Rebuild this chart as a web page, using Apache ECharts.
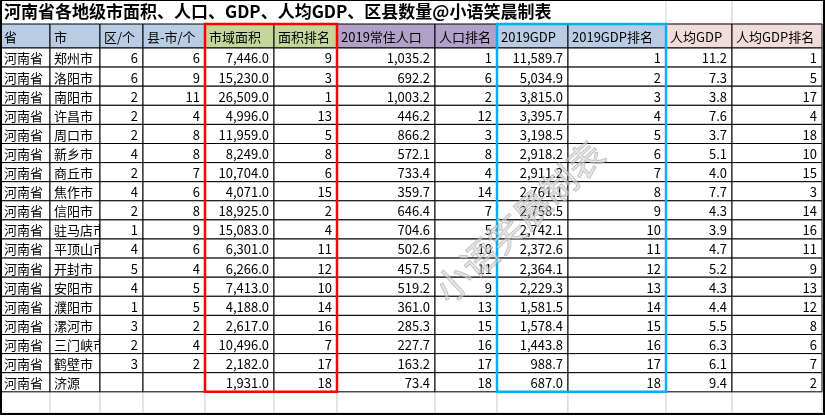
<!DOCTYPE html>
<html><head><meta charset="utf-8">
<script src="https://cdn.jsdelivr.net/npm/echarts@6/dist/echarts.min.js"></script>
<style>html,body{margin:0;padding:0;background:#fff}#c{width:825px;height:416px}</style>
</head><body><div id="c"></div>
<script>
const title = '河南省各地级市面积、人口、GDP、人均GDP、区县数量@小语笑晨制表';
const headers = ['省','市','区/个','县-市/个','市域面积','面积排名','2019常住人口','人口排名','2019GDP','2019GDP排名','人均GDP','人均GDP排名'];
const provinces = Array(18).fill('河南省');
const cities = ['郑州市','洛阳市','南阳市','许昌市','周口市','新乡市','商丘市','焦作市','信阳市','驻马店市','平顶山市','开封市','安阳市','濮阳市','漯河市','三门峡市','鹤壁市','济源'];
const districts = [6,6,2,2,2,4,2,4,2,1,4,5,4,1,3,2,3,null];
const counties = [6,9,11,4,8,8,7,6,8,9,6,4,5,5,2,4,2,null];
const area = [7446,15230,26509,4996,11959,8249,10704,4071,18925,15083,6301,6266,7413,4188,2617,10496,2182,1931];
const areaRank = [9,3,1,13,5,8,6,15,2,4,11,12,10,14,16,7,17,18];
const population = [1035.2,692.2,1003.2,446.2,866.2,572.1,733.4,359.7,646.4,704.6,502.6,457.5,519.2,361.0,285.3,227.7,163.2,73.4];
const popRank = [1,6,2,12,3,8,4,14,7,5,10,11,9,13,15,16,17,18];
const gdp = [11589.7,5034.9,3815.0,3395.7,3198.5,2918.2,2911.2,2761.1,2758.5,2742.1,2372.6,2364.1,2229.3,1581.5,1578.4,1443.8,988.7,687.0];
const gdpRank = [1,2,3,4,5,6,7,8,9,10,11,12,13,14,15,16,17,18];
const perGdp = [11.2,7.3,3.8,7.6,3.7,5.1,4.0,7.7,4.3,3.9,4.7,5.2,4.3,4.4,5.5,6.3,6.1,9.4];
const perGdpRank = [1,5,17,4,18,10,15,3,14,16,11,9,13,12,8,6,7,2];
const watermark = '小语笑晨制表';

// layout (not data)
const colEdges=[0,50,100,143,205,274,337,435,497,568,666,732,822];
const titleH=24, headerH=24, rowH=19.1;
const headerColors=['#b8cce4','#b8cce4','#b8cce4','#b8cce4','#c4d79b','#c4d79b','#b1a0c7','#b1a0c7','#b8cce4','#b8cce4','#f2dcdb','#f2dcdb'];
const fmt1 = v => v==null?'':v.toLocaleString('en-US',{minimumFractionDigits:1,maximumFractionDigits:1});
const plain = v => v==null?'':String(v);
const columns=[[provinces,plain,'left'],[cities,plain,'left'],[districts,plain,'right'],[counties,plain,'right'],
 [area,fmt1,'right'],[areaRank,plain,'right'],[population,fmt1,'right'],[popRank,plain,'right'],
 [gdp,fmt1,'right'],[gdpRank,plain,'right'],[perGdp,fmt1,'right'],[perGdpRank,plain,'right']];
const rowY = r => r<0 ? titleH : titleH+headerH+r*rowH;
const rowB = r => r<0 ? titleH+headerH : titleH+headerH+(r+1)*rowH;
const FONT='"Noto Sans CJK SC","Microsoft YaHei",sans-serif';

const cells=[];
for(let c=0;c<12;c++){
  cells.push({value:[c,-1],text:headers[c],align:'left',fill:headerColors[c]});
  const [arr,f,al]=columns[c];
  for(let r=0;r<arr.length;r++) cells.push({value:[c,r],text:f(arr[r]),align:al,fill:'#fff'});
}
const emptyRow=[];for(let c=0;c<12;c++) emptyRow.push({value:[c,18]});

function cellRect(api,c,y0,y1){
  const p0=api.coord([colEdges[c],y0]), p1=api.coord([colEdges[c+1],y1]);
  return {x:p0[0],y:p0[1],width:p1[0]-p0[0],height:p1[1]-p0[1]};
}
const chart=echarts.init(document.getElementById('c'));
chart.setOption({
  animation:false,
  grid:{left:0,right:0,top:0,bottom:0},
  xAxis:{type:'value',min:0,max:825,show:false},
  yAxis:{type:'value',min:0,max:416,inverse:true,show:false},
  series:[
   {type:'custom',data:emptyRow,z:1,renderItem:(p,api)=>{
     const c=api.value(0);const s=cellRect(api,c,rowY(18),413);
     return {type:'rect',shape:s,style:{fill:'#fff',stroke:'#d4d4d4',lineWidth:1}};}},
   {type:'custom',data:[{value:[0]}],z:1,renderItem:(p,api)=>{
     const kids=[];
     for(let c=10;c<12;c++) kids.push({type:'rect',shape:cellRect(api,c,0,titleH),style:{fill:'#fff',stroke:'#d4d4d4',lineWidth:1}});
     const p0=api.coord([4,titleH/2]);
     kids.push({type:'text',style:{x:p0[0],y:p0[1],text:title,fill:'#000',font:'bold 17px '+FONT,verticalAlign:'middle'}});
     return {type:'group',children:kids};}},
   {type:'custom',data:cells,z:2,renderItem:(p,api)=>{
     const c=api.value(0), r=api.value(1); const d=cells[p.dataIndex];
     const s=cellRect(api,c,rowY(r),rowB(r));
     const tx=d.align==='left'?s.x+4:s.x+s.width-5;
     return {type:'group',children:[
       {type:'rect',shape:s,style:{fill:d.fill,stroke:'#000',lineWidth:1}},
       {type:'text',style:{x:tx,y:s.y+s.height/2+1,text:d.text,align:d.align,verticalAlign:'middle',fill:'#000',font:'13px '+FONT}}]};}},
   {type:'custom',data:[{value:[4,5]},{value:[8,9]}],z:3,renderItem:(p,api)=>{
     const a=api.value(0),b=api.value(1);
     const p0=api.coord([colEdges[a],titleH]),p1=api.coord([colEdges[b+1],rowB(17)]);
     return {type:'rect',shape:{x:p0[0],y:p0[1],width:p1[0]-p0[0],height:p1[1]-p0[1]},style:{fill:'none',stroke:p.dataIndex===0?'#ff0000':'#00b0f0',lineWidth:2.5}};}}
  ],
  graphic:[
   {type:'text',x:428,y:282,rotation:Math.PI*43/180,z:10,
    style:{text:watermark,font:'36px '+FONT,fill:'rgba(215,215,215,0.6)',stroke:'rgba(130,130,130,0.55)',lineWidth:1}},
   {type:'rect',shape:{x:1,y:0,width:823,height:414},style:{fill:'none',stroke:'#000',lineWidth:2},z:20}
  ]
});
</script></body></html>
